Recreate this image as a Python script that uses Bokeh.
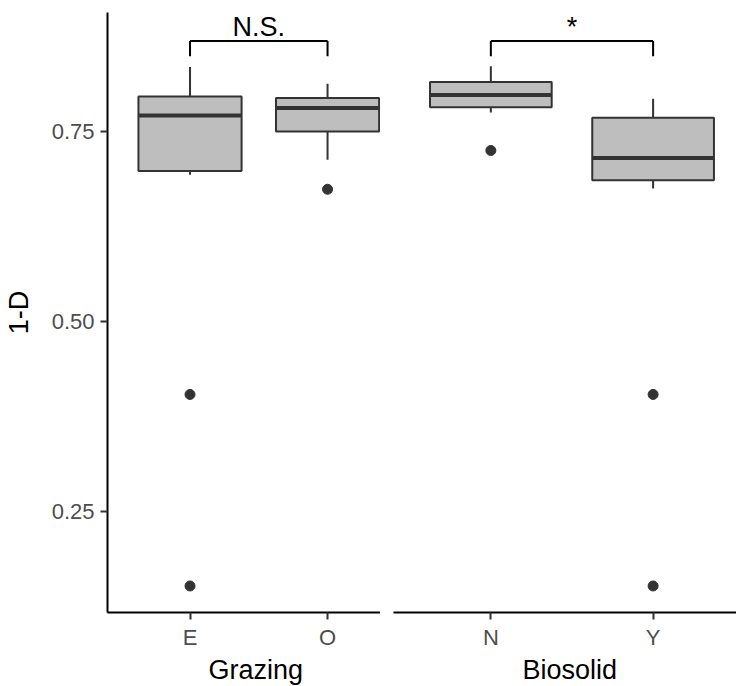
from bokeh.plotting import figure
from bokeh.layouts import row
from bokeh.models import Range1d, FixedTicker, Title
from bokeh.core.properties import value
from bokeh.embed import file_html
from bokeh.resources import INLINE

# ---- data ----
graz_cats = ["E", "O"]
graz_upper = [0.835, 0.813]
graz_q3 = [0.796, 0.794]
graz_median = [0.771, 0.781]
graz_q1 = [0.698, 0.750]
graz_lower = [0.693, 0.713]
graz_outlier_cat = ["E", "E", "O"]
graz_outlier_val = [0.404, 0.152, 0.674]

bio_cats = ["N", "Y"]
bio_upper = [0.836, 0.793]
bio_q3 = [0.815, 0.768]
bio_median = [0.798, 0.715]
bio_q1 = [0.782, 0.686]
bio_lower = [0.775, 0.675]
bio_outlier_cat = ["N", "Y", "Y"]
bio_outlier_val = [0.725, 0.404, 0.152]

sig_labels = ["N.S.", "*"]
bracket_level = 0.869
bracket_tip = 0.849
sig_text_level = 0.8875

y_ticks = [0.25, 0.50, 0.75]
y_tick_labels = ["0.25", "0.50", "0.75"]
y_title = "1-D"
x_titles = ["Grazing", "Biosolid"]

FONT = "Liberation Sans"
BOX_W = 0.75
y_range = Range1d(0.1171, 0.9066)


def make_panel(cats, upper, q3, med, q1, lower, out_cat, out_val, xtitle, sig,
               x_end, width, border_left, title_offset, show_y):
    p = figure(width=width, height=686, output_backend="svg", toolbar_location=None,
               x_range=Range1d(0.4, x_end), y_range=y_range,
               min_border_left=border_left, min_border_right=0,
               min_border_top=12, min_border_bottom=74,
               y_axis_location="left" if show_y else None)
    p.outline_line_color = None
    p.xgrid.visible = False
    p.ygrid.visible = False
    p.background_fill_color = "white"
    p.border_fill_color = "white"

    xs = [i + 1 for i in range(len(cats))]
    pos = {c: i + 1 for i, c in enumerate(cats)}
    mid = (xs[0] + xs[-1]) / 2

    # whiskers
    p.segment(x0=xs, y0=q3, x1=xs, y1=upper, line_color="#333333", line_width=2)
    p.segment(x0=xs, y0=q1, x1=xs, y1=lower, line_color="#333333", line_width=2)
    # boxes
    p.vbar(x=xs, width=BOX_W, top=q3, bottom=q1, fill_color="#BEBEBE",
           line_color="#333333", line_width=2)
    # medians
    p.segment(x0=[x - BOX_W / 2 for x in xs], y0=med, x1=[x + BOX_W / 2 for x in xs], y1=med,
              line_color="#333333", line_width=4)
    # outliers
    p.scatter(x=[pos[c] for c in out_cat], y=out_val, size=10,
              fill_color="#333333", line_color="#333333")

    # significance bracket
    p.segment(x0=[xs[0], xs[0], xs[1]], y0=[bracket_level, bracket_level, bracket_level],
              x1=[xs[1], xs[0], xs[1]], y1=[bracket_level, bracket_tip, bracket_tip],
              line_color="black", line_width=2)
    p.text(x=[mid], y=[sig_text_level], text=[sig],
           text_align="center", text_baseline="middle",
           text_font=value(FONT), text_font_size="27px", text_color="black")

    # x axis
    xa = p.xaxis[0]
    xa.ticker = FixedTicker(ticks=xs)
    xa.major_label_overrides = {x: c for x, c in zip(xs, cats)}
    xa.minor_tick_line_color = None
    xa.major_tick_in = 0
    xa.major_tick_out = 7
    xa.major_tick_line_color = "#333333"
    xa.major_tick_line_width = 2
    xa.axis_line_color = "black"
    xa.axis_line_width = 2
    xa.major_label_text_font = FONT
    xa.major_label_text_font_size = "22px"
    xa.major_label_text_color = "#4D4D4D"
    xa.major_label_standoff = 5

    # x-axis title, placed under the two categories as in the reference
    p.add_layout(Title(text=xtitle, align="left", offset=title_offset, standoff=0,
                       text_font=FONT, text_font_size="27px", text_font_style="normal",
                       text_color="black"), "below")

    if show_y:
        ya = p.yaxis[0]
        ya.ticker = FixedTicker(ticks=y_ticks)
        ya.major_label_overrides = {t: l for t, l in zip(y_ticks, y_tick_labels)}
        ya.minor_tick_line_color = None
        ya.major_tick_in = 0
        ya.major_tick_out = 7
        ya.major_tick_line_color = "#333333"
        ya.major_tick_line_width = 2
        ya.axis_line_color = "black"
        ya.axis_line_width = 2
        ya.major_label_text_font = FONT
        ya.major_label_text_font_size = "22px"
        ya.major_label_text_color = "#4D4D4D"
        ya.major_label_standoff = 6
        ya.axis_label = y_title
        ya.axis_label_text_font = FONT
        ya.axis_label_text_font_size = "27px"
        ya.axis_label_text_font_style = "normal"
        ya.axis_label_text_color = "black"
        ya.axis_label_standoff = 15
    return p


p1 = make_panel(graz_cats, graz_upper, graz_q3, graz_median, graz_q1, graz_lower,
                graz_outlier_cat, graz_outlier_val, x_titles[0], sig_labels[0],
                2.385, 380, 107, 101, True)
p2 = make_panel(bio_cats, bio_upper, bio_q3, bio_median, bio_q1, bio_lower,
                bio_outlier_cat, bio_outlier_val, x_titles[1], sig_labels[1],
                2.514, 356, 13, 129, False)

layout = row(p1, p2)
open("out.html", "w").write(file_html(layout, INLINE))
